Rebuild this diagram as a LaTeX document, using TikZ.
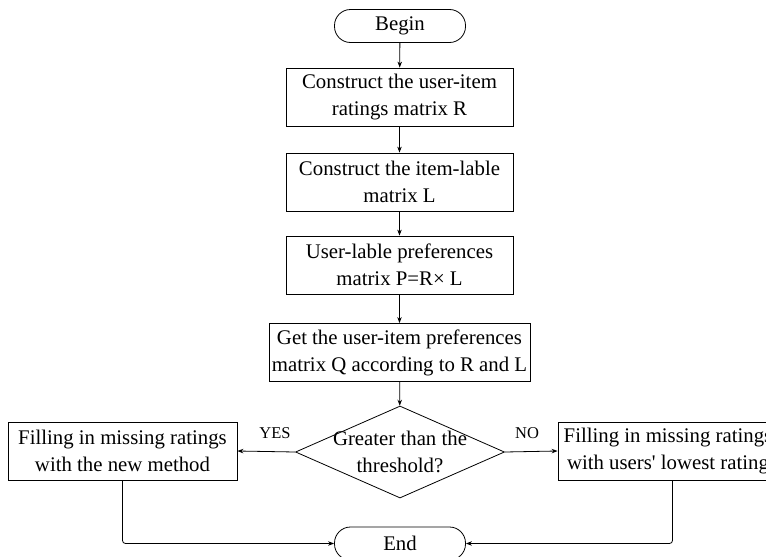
\documentclass[tikz,border=0pt]{standalone}
\usepackage{fontspec}
\setmainfont{Liberation Serif}
\usetikzlibrary{shapes.geometric,arrows.meta}
\begin{document}
\begin{tikzpicture}[x=1pt,y=-1pt,
  every node/.style={font=\fontsize{20.8}{27}\selectfont, align=center, inner sep=0pt},
  procbox/.style={draw, line width=0.8pt, minimum height=58pt},
  term/.style={draw, line width=0.8pt, rounded corners=16pt, minimum width=131pt, minimum height=33pt},
  dec/.style={draw, line width=0.8pt, diamond, minimum width=209pt, minimum height=92pt, shape aspect=2.27},
  conn/.style={line width=0.8pt, -{Stealth[length=6pt,width=4.5pt]}},
  lbl/.style={font=\fontsize{16.5}{19}\selectfont}]
\useasboundingbox (0,0) rectangle (766,557);
\clip (0,0) rectangle (766,557);
\node[term] (begin) at (400,26) {Begin};
\node[procbox, minimum width=227pt] (b1) at (399.5,97) {Construct the user-item\\ratings matrix R};
\node[procbox, minimum width=227pt] (b2) at (399.5,182) {Construct the item-lable\\matrix L};
\node[procbox, minimum width=227pt] (b3) at (399.5,265) {User-lable preferences\\matrix P=R\texttimes{} L};
\node[procbox, minimum width=261pt] (b4) at (399.5,352.5) {Get the user-item preferences\\matrix Q according to R and L};
\node[dec] (d) at (400,452) {};
\node (dtext) at (400,452) {Greater than the\\threshold?};
\node[procbox, minimum width=229pt] (left) at (122.5,451) {Filling in missing ratings\\with the new method};
\node[procbox, minimum width=229pt] (right) at (672.5,451) {};
\node (righttext) at (668,451) {Filling in missing ratings\\with users\textquotesingle{} lowest rating};
\node[term] (end) at (400,543.5) {End};
\node[lbl] (yes) at (275,433) {YES};
\node[lbl] (no) at (527,433) {NO};
\draw[conn] (begin) -- (b1);
\draw[conn] (b1) -- (b2);
\draw[conn] (b2) -- (b3);
\draw[conn] (b3) -- (b4);
\draw[conn] (b4) -- (d);
\draw[conn] (d.west) -- (left.east);
\draw[conn] (d.east) -- (right.west);
\draw[conn, rounded corners=3pt] (left.south) |- (end.west);
\draw[conn, rounded corners=3pt] (right.south) |- (end.east);
\end{tikzpicture}
\end{document}
